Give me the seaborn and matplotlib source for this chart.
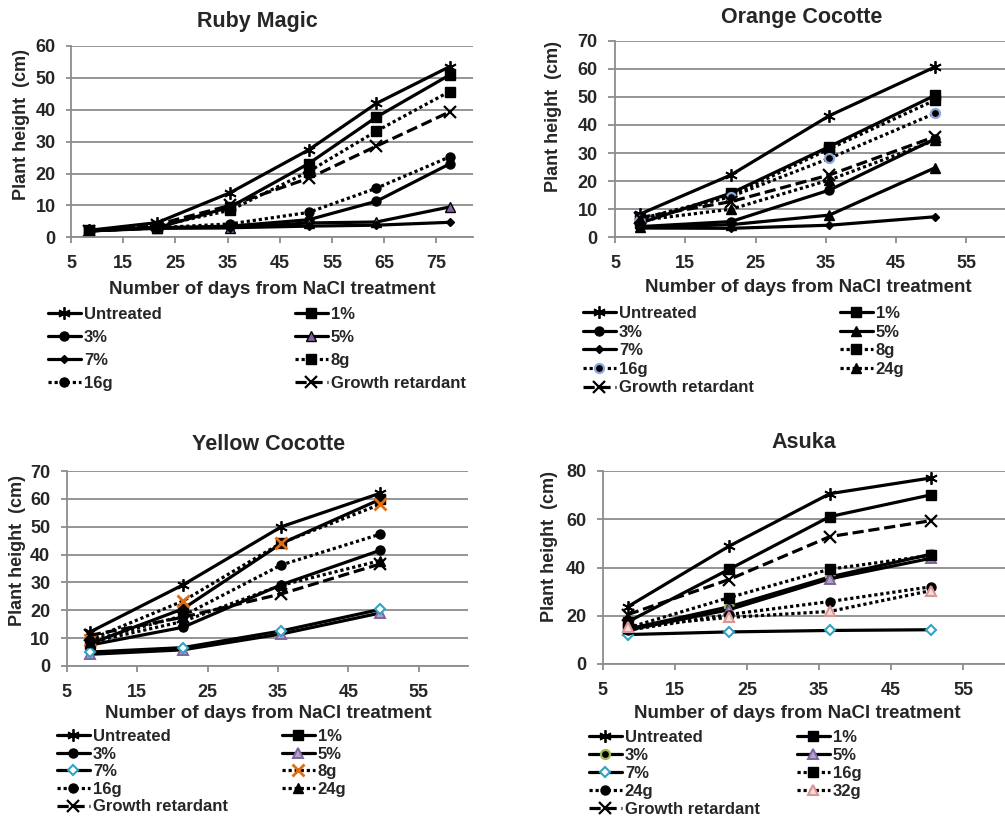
import numpy as np
import pandas as pd
import matplotlib
matplotlib.use("Agg")
import matplotlib.pyplot as plt
import seaborn as sns

sns.set_theme(style="white")
plt.rcParams['font.family'] = ['Liberation Sans', 'DejaVu Sans']
plt.rcParams['font.weight'] = 'bold'

W, H = 1005, 818

# ---------------- data ----------------
ruby_days = [8.5, 21.5, 35.5, 50.5, 63.5, 77.5]
ruby_untreated = [2.2, 4.6, 14.0, 27.4, 42.0, 53.5]
ruby_1 = [2.3, 3.0, 9.5, 23.1, 37.7, 50.9]
ruby_3 = [2.0, 3.0, 3.5, 5.5, 11.3, 23.0]
ruby_5 = [2.0, 3.0, 3.0, 4.5, 4.8, 9.5]
ruby_7 = [2.0, 2.8, 3.0, 3.5, 3.8, 4.7]
ruby_8g = [2.0, 3.5, 8.5, 20.6, 33.3, 45.7]
ruby_16g = [2.0, 3.0, 4.2, 7.8, 15.4, 25.2]
ruby_gr = [2.0, 4.0, 10.0, 18.5, 28.6, 39.3]

orange_days = [8.5, 21.5, 35.5, 50.5]
orange_untreated = [8.2, 22.2, 43.3, 60.6]
orange_1 = [5.0, 15.7, 32.3, 50.5]
orange_3 = [3.8, 5.6, 16.8, 35.0]
orange_5 = [3.5, 4.5, 7.9, 24.7]
orange_7 = [3.3, 3.2, 4.3, 7.3]
orange_8g = [6.5, 14.8, 31.5, 48.8]
orange_16g = [6.0, 14.5, 28.1, 44.1]
orange_24g = [6.0, 10.0, 20.4, 34.5]
orange_gr = [7.0, 12.7, 22.2, 35.8]

yellow_days = [8.3, 21.5, 35.5, 49.5]
yellow_untreated = [12.2, 29.1, 50.0, 62.0]
yellow_1 = [8.0, 20.5, 44.0, 59.8]
yellow_3 = [7.5, 13.9, 29.2, 41.5]
yellow_5 = [4.2, 5.8, 11.5, 19.0]
yellow_7 = [5.0, 6.6, 12.6, 20.3]
yellow_8g = [9.5, 23.3, 44.2, 58.0]
yellow_16g = [9.0, 18.0, 36.3, 47.3]
yellow_24g = [8.5, 16.0, 29.0, 37.8]
yellow_gr = [11.0, 17.5, 25.9, 36.6]

asuka_days = [8.5, 22.5, 36.5, 50.5]
asuka_untreated = [23.8, 48.8, 70.6, 77.1]
asuka_1 = [17.5, 39.2, 61.1, 70.1]
asuka_3 = [14.5, 23.7, 36.1, 45.5]
asuka_5 = [14.0, 22.5, 35.3, 43.8]
asuka_7 = [12.2, 13.3, 13.9, 14.2]
asuka_16g = [15.0, 27.5, 39.3, 45.0]
asuka_24g = [14.0, 20.5, 25.9, 32.0]
asuka_32g = [15.5, 19.3, 21.8, 30.4]
asuka_gr = [20.5, 35.0, 52.8, 59.4]

panel_titles = ["Ruby Magic", "Orange Cocotte", "Yellow Cocotte", "Asuka"]
y_label = "Plant height  (cm)"
x_label = "Number of days from NaCl treatment"

# ---------------- styles ----------------
AST = (6, 2, 0)
PURPLE_F = '#8064A2'
TEAL = '#31A3C4'
ORANGE = '#E46C0A'
GREEN = '#9BBB59'
BLUE_E = '#8EA9DB'
PINK_E, PINK_F = '#D99694', '#F2DCDB'
DOT = (0, (1.0, 0.9))


def st(marker, ls='-', ms=6.5, mfc='black', mec='black', mew=1.0):
    return dict(marker=marker, linestyle=ls, markersize=ms,
                markerfacecolor=mfc, markeredgecolor=mec, markeredgewidth=mew)


S_UNT = st(AST, ms=9, mew=1.3)
S_1 = st('s', ms=7)
S_3 = st('o', ms=6.5)
S_5 = st('^', ms=6.5)
S_7 = st('D', ms=4.5)
S_8g = st('s', DOT, ms=7)
S_16g = st('o', DOT, ms=6.5)
S_24g = st('^', DOT, ms=6.5)
S_GR = st('x', (0, (3.5, 1.5)), ms=8, mew=1.6)

panels = [
    dict(days=ruby_days, ylim=(0, 60), ystep=10, xlim=(5, 82), xticks=np.arange(5, 80, 10),
         rect=(71, 46, 473, 237.3), ytick_len=5,
         title=(257, 22), ylab=(21, 124), xlab=(272, 290),
         leg=dict(col1=48, col2=295, row1=313, pitch=23),
         series=[("Untreated", ruby_untreated, S_UNT), ("1%", ruby_1, S_1),
                 ("3%", ruby_3, S_3), ("5%", ruby_5, st('^', ms=6.5, mfc=PURPLE_F, mec='black')),
                 ("7%", ruby_7, S_7), ("8g", ruby_8g, S_8g),
                 ("16g", ruby_16g, S_16g), ("Growth retardant", ruby_gr, S_GR)]),
    dict(days=orange_days, ylim=(0, 70), ystep=10, xlim=(5, 60.5), xticks=np.arange(5, 60, 10),
         rect=(615, 40.7, 1005, 237.3), ytick_len=7,
         title=(802, 18), ylab=(553, 116), xlab=(808, 288),
         leg=dict(col1=583, col2=840, row1=312, pitch=18.6),
         series=[("Untreated", orange_untreated, S_UNT), ("1%", orange_1, S_1),
                 ("3%", orange_3, S_3), ("5%", orange_5, S_5),
                 ("7%", orange_7, S_7), ("8g", orange_8g, S_8g),
                 ("16g", orange_16g, st('o', DOT, ms=6.5, mfc='black', mec=BLUE_E, mew=1.6)),
                 ("24g", orange_24g, S_24g),
                 ("Growth retardant", orange_gr, S_GR)]),
    dict(days=yellow_days, ylim=(0, 70), ystep=10, xlim=(5, 62), xticks=np.arange(5, 60, 10),
         rect=(66.7, 471, 468, 666), ytick_len=6,
         title=(269, 445), ylab=(17, 550), xlab=(268, 713),
         leg=dict(col1=57, col2=282, row1=735, pitch=17.6),
         series=[("Untreated", yellow_untreated, S_UNT), ("1%", yellow_1, S_1),
                 ("3%", yellow_3, S_3),
                 ("5%", yellow_5, st('^', ms=6.5, mfc='#B3A2C7', mec=PURPLE_F, mew=1.4)),
                 ("7%", yellow_7, st('D', ms=5.5, mfc='white', mec=TEAL, mew=1.5)),
                 ("8g", yellow_8g, st('x', DOT, ms=8, mfc=ORANGE, mec=ORANGE, mew=2.0)),
                 ("16g", yellow_16g, S_16g), ("24g", yellow_24g, S_24g),
                 ("Growth retardant", yellow_gr, S_GR)]),
    dict(days=asuka_days, ylim=(0, 80), ystep=20, xlim=(5, 60.8), xticks=np.arange(5, 60, 10),
         rect=(602.7, 471, 1005, 664), ytick_len=6,
         title=(804, 443), ylab=(550, 547), xlab=(797, 714),
         leg=dict(col1=589, col2=797, row1=736, pitch=18),
         series=[("Untreated", asuka_untreated, S_UNT), ("1%", asuka_1, S_1),
                 ("3%", asuka_3, st('o', ms=6.5, mfc='black', mec=GREEN, mew=1.6)),
                 ("5%", asuka_5, st('^', ms=6.5, mfc='#B3A2C7', mec=PURPLE_F, mew=1.4)),
                 ("7%", asuka_7, st('D', ms=5.5, mfc='white', mec=TEAL, mew=1.5)),
                 ("16g", asuka_16g, S_8g), ("24g", asuka_24g, S_16g),
                 ("32g", asuka_32g, st('^', DOT, ms=6.5, mfc=PINK_F, mec=PINK_E, mew=1.5)),
                 ("Growth retardant", asuka_gr, S_GR)]),
]

fig = plt.figure(figsize=(W / 100, H / 100), dpi=100)
GRID = '#8C8C8C'
LEG_FS = 12

for p, title in zip(panels, panel_titles):
    x0, y0, x1, y1 = p['rect']
    ax = fig.add_axes([x0 / W, 1 - y1 / H, (x1 - x0) / W, (y1 - y0) / H])
    for name, vals, style in p['series']:
        df = pd.DataFrame({'day': p['days'], 'height': vals})
        sns.lineplot(data=df, x='day', y='height', ax=ax, color='black',
                     linewidth=2.3, label=name, sort=False, estimator=None, **style)
    if ax.get_legend() is not None:
        ax.get_legend().remove()
    ax.set_xlim(*p['xlim'])
    ax.set_ylim(*p['ylim'])
    ax.set_xticks(p['xticks'])
    ax.set_yticks(np.arange(p['ylim'][0], p['ylim'][1] + 1, p['ystep']))
    ax.set_xlabel('')
    ax.set_ylabel('')
    ax.grid(axis='y', color=GRID, linewidth=1.3)
    ax.set_axisbelow(True)
    for s in ['top', 'right']:
        ax.spines[s].set_visible(False)
    for s in ['left', 'bottom']:
        ax.spines[s].set_color(GRID)
        ax.spines[s].set_linewidth(1.3)
    ax.tick_params(axis='x', direction='out', length=6 / 1.389, width=1.3, color=GRID,
                   pad=8.5, labelsize=13)
    ax.tick_params(axis='y', direction='out', length=p['ytick_len'] / 1.389, width=1.3,
                   color=GRID, pad=7.5, labelsize=13)
    ax.tick_params(left=True, bottom=True)
    for lab in ax.get_xticklabels() + ax.get_yticklabels():
        lab.set_fontweight('bold')

    fig.text(p['title'][0] / W, 1 - p['title'][1] / H, title, ha='center', va='center',
             fontsize=15.5, fontweight='bold')
    fig.text(p['ylab'][0] / W, 1 - p['ylab'][1] / H, y_label, ha='center', va='center',
             rotation=90, fontsize=13, fontweight='bold')
    fig.text(p['xlab'][0] / W, 1 - p['xlab'][1] / H, x_label, ha='center', va='center',
             fontsize=13.5, fontweight='bold')

    handles, labels = ax.get_legend_handles_labels()
    lg = p['leg']
    fs_px = LEG_FS * 100 / 72
    text_h = 15.0
    spacing = (lg['pitch'] - text_h) / fs_px
    top = lg['row1'] - 6.0
    for col, idx in (('col1', slice(0, None, 2)), ('col2', slice(1, None, 2))):
        fig.legend(handles[idx], labels[idx], loc='upper left',
                   bbox_to_anchor=(lg[col] / W, 1 - top / H),
                   frameon=False, borderpad=0, borderaxespad=0,
                   handlelength=1.95, handletextpad=0.2, labelspacing=spacing,
                   prop=dict(size=LEG_FS, weight='bold'))

fig.savefig('out.png', dpi=100)
